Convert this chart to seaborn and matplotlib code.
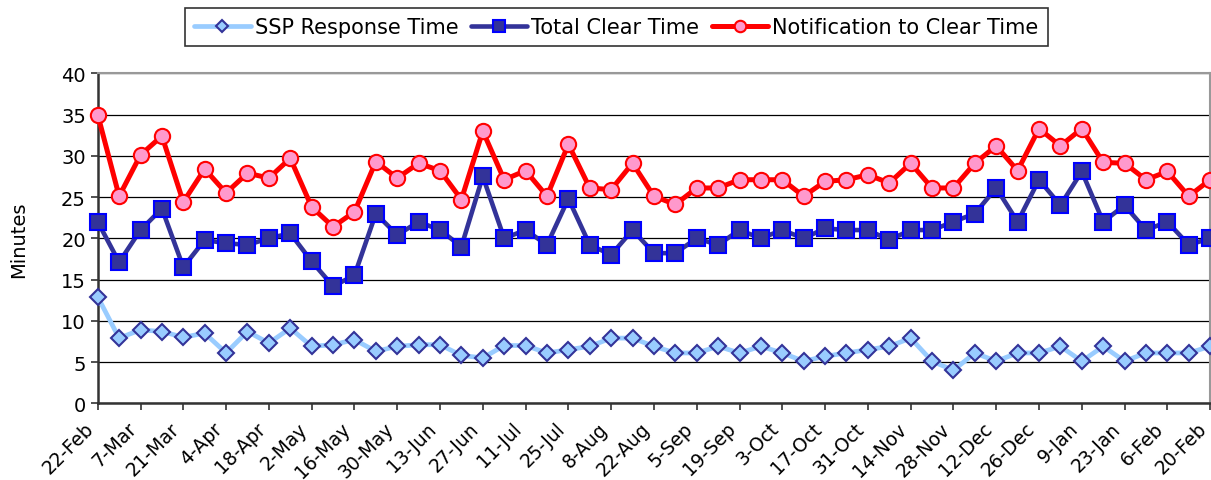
import matplotlib
matplotlib.use("Agg")
import numpy as np
import pandas as pd
import seaborn as sns
import matplotlib.pyplot as plt

# tick labels, one every two weeks
tick_labels = ["22-Feb", "7-Mar", "21-Mar", "4-Apr", "18-Apr", "2-May", "16-May",
               "30-May", "13-Jun", "27-Jun", "11-Jul", "25-Jul", "8-Aug", "22-Aug",
               "5-Sep", "19-Sep", "3-Oct", "17-Oct", "31-Oct", "14-Nov", "28-Nov",
               "12-Dec", "26-Dec", "9-Jan", "23-Jan", "6-Feb", "20-Feb"]

# weekly values (minutes)
ssp_response = [12.9, 7.9, 8.9, 8.7, 8.0, 8.5, 6.1, 8.7, 7.3, 9.1, 6.9, 7.1, 7.7, 6.3,
                6.9, 7.1, 7.1, 5.8, 5.5, 7.0, 7.0, 6.1, 6.5, 6.9, 7.9, 7.9, 6.9, 6.1,
                6.1, 6.9, 6.1, 6.9, 6.1, 5.1, 5.7, 6.1, 6.5, 6.9, 7.9, 5.1, 4.0, 6.1,
                5.1, 6.1, 6.1, 6.9, 5.1, 6.9, 5.1, 6.1, 6.1, 6.1, 6.9]
total_clear = [22.0, 17.1, 21.0, 23.6, 16.5, 19.8, 19.4, 19.2, 20.0, 20.6, 17.2, 14.2,
               15.5, 23.0, 20.4, 22.0, 21.0, 19.0, 27.5, 20.0, 21.0, 19.2, 24.8, 19.2,
               18.0, 21.0, 18.2, 18.2, 20.0, 19.2, 21.0, 20.0, 21.0, 20.0, 21.2, 21.0,
               21.0, 19.8, 21.0, 21.0, 22.0, 23.0, 26.1, 22.0, 27.1, 24.0, 28.1, 22.0,
               24.0, 21.0, 22.0, 19.2, 20.0]
notif_clear = [35.0, 25.1, 30.1, 32.4, 24.4, 28.4, 25.5, 27.9, 27.3, 29.7, 23.8, 21.4,
               23.2, 29.3, 27.3, 29.1, 28.2, 24.7, 33.0, 27.1, 28.2, 25.1, 31.4, 26.1,
               25.9, 29.1, 25.1, 24.1, 26.1, 26.1, 27.1, 27.1, 27.1, 25.1, 26.9, 27.1,
               27.7, 26.7, 29.1, 26.1, 26.1, 29.1, 31.2, 28.2, 33.3, 31.2, 33.3, 29.2,
               29.1, 27.1, 28.1, 25.1, 27.1]

weeks = pd.date_range("2004-02-22", periods=len(ssp_response), freq="7D")
df = pd.DataFrame({"week": weeks, "ssp": ssp_response,
                   "total": total_clear, "notif": notif_clear})

sns.set_style("white")
plt.rcParams["font.family"] = ["DejaVu Sans"]
plt.rcParams.update({"text.color": "black", "axes.labelcolor": "black",
                     "xtick.color": "black", "ytick.color": "black"})

fig = plt.figure(figsize=(12.11, 4.81), dpi=100)
ax = fig.add_axes([0.0807, 0.1595, 0.9186, 0.686])

sns.lineplot(data=df, x="week", y="ssp", ax=ax, color="#99CCFF", linewidth=3.4,
             marker="D", markersize=8.5, markerfacecolor="#99CCFF",
             markeredgecolor="#333399", markeredgewidth=1.5, clip_on=False,
             label="SSP Response Time", zorder=3)
sns.lineplot(data=df, x="week", y="total", ax=ax, color="#333399", linewidth=3.3,
             marker="s", markersize=11.5, markerfacecolor="#333399",
             markeredgecolor="#0000FF", markeredgewidth=1.5, clip_on=False,
             label="Total Clear Time", zorder=3)
sns.lineplot(data=df, x="week", y="notif", ax=ax, color="#FF0000", linewidth=3.6,
             marker="o", markersize=11, markerfacecolor="#FF99CC",
             markeredgecolor="#FF0000", markeredgewidth=1.5, clip_on=False,
             label="Notification to Clear Time", zorder=3)

handles, labels = ax.get_legend_handles_labels()
ax.get_legend().remove()
leg = fig.legend(handles, labels, loc="upper center", bbox_to_anchor=(0.509, 0.982),
                 ncol=3, frameon=True, fancybox=False, edgecolor="black",
                 fontsize=15, handlelength=2.7, columnspacing=0.6,
                 handletextpad=0.2, borderpad=0.45, borderaxespad=0,
                 markerscale=0.75)
leg.get_frame().set_linewidth(1.2)

ax.set_xlim(weeks[0], weeks[-1])
ax.set_ylim(0, 40)
ax.set_yticks(np.arange(0, 41, 5))
ax.set_xticks(weeks[::2])
ax.set_xticklabels(tick_labels, rotation=45, ha="right", va="top", fontsize=13.5)
ax.yaxis.grid(True, color="black", linewidth=0.9)
ax.set_axisbelow(True)

ax.set_xlabel("")
ax.set_ylabel("Minutes", fontsize=14)
ax.yaxis.set_label_coords(-0.063, 0.5)
ax.tick_params(axis="both", direction="out", length=5, width=1.2,
               bottom=True, left=True, color="#333333")
ax.tick_params(axis="y", labelsize=14)
ax.tick_params(axis="x", pad=6)

for side in ["left", "bottom"]:
    ax.spines[side].set_color("#333333")
    ax.spines[side].set_linewidth(1.8)
for side in ["top", "right"]:
    ax.spines[side].set_color("#999999")
    ax.spines[side].set_linewidth(1.5)

fig.savefig("out.png", dpi=100)
